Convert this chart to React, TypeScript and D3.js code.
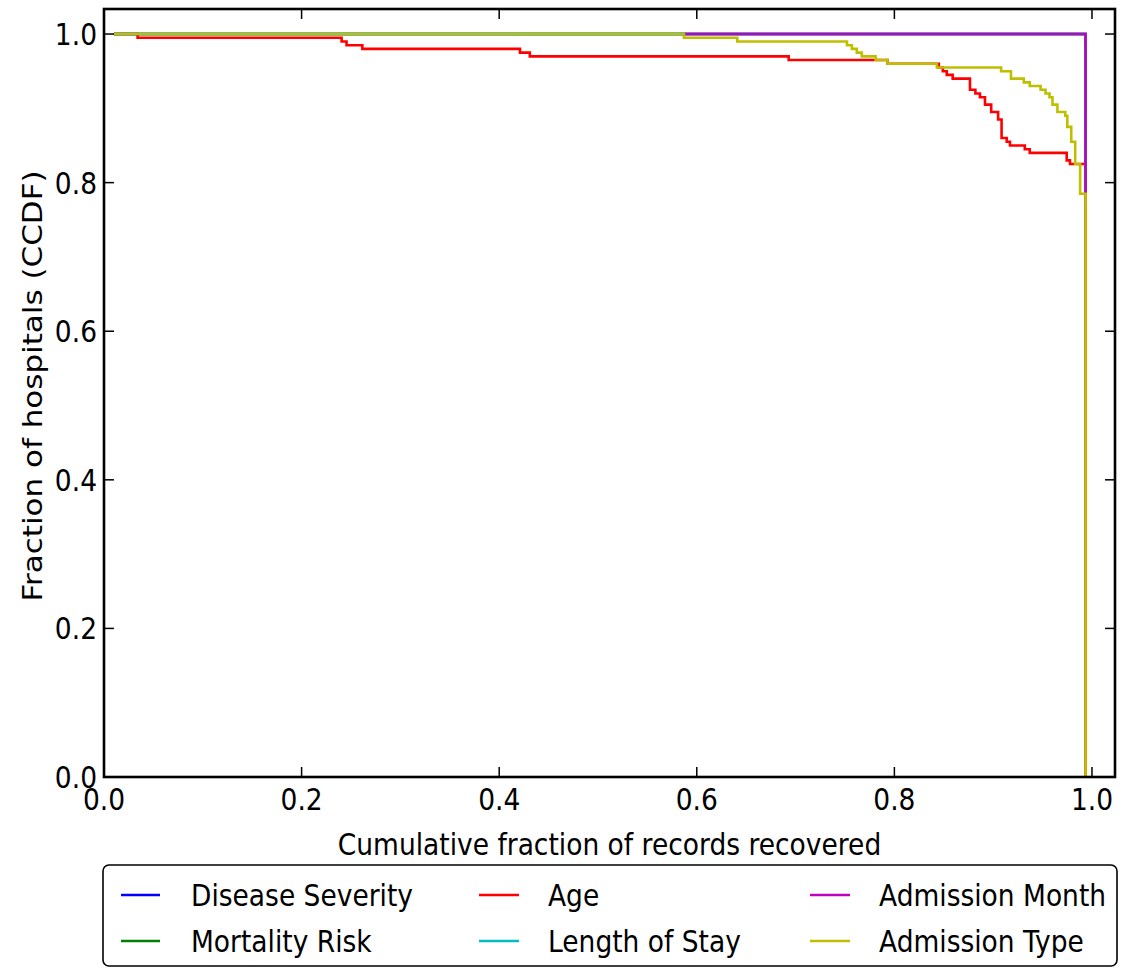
import React from "react";
import * as d3 from "d3";

// ---- Data ----
const xTicks = [0.0, 0.2, 0.4, 0.6, 0.8, 1.0];
const yTicks = [0.0, 0.2, 0.4, 0.6, 0.8, 1.0];

const diseaseSeverityX = [0.01, 0.9935];
const diseaseSeverityY = [1.0, 0.786];
const mortalityRiskX = [0.01, 0.9935];
const mortalityRiskY = [1.0, 0.786];
const lengthOfStayX = [0.01, 0.9935];
const lengthOfStayY = [1.0, 0.786];

const ageX = [0.01, 0.034, 0.2405, 0.2455, 0.2615, 0.421, 0.431, 0.693, 0.793, 0.845, 0.849, 0.853, 0.859, 0.8765, 0.882, 0.8866, 0.8917, 0.898, 0.905, 0.9085, 0.9137, 0.917, 0.932, 0.937, 0.9744, 0.9777, 0.9935];
const ageY = [1.0, 0.995, 0.99, 0.985, 0.98, 0.975, 0.97, 0.965, 0.96, 0.955, 0.95, 0.945, 0.94, 0.925, 0.92, 0.915, 0.905, 0.895, 0.885, 0.86, 0.855, 0.85, 0.845, 0.84, 0.83, 0.825, 0.0];

const admissionMonthX = [0.587, 0.9935];
const admissionMonthY = [1.0, 0.786];

const admissionTypeX = [0.01, 0.587, 0.641, 0.752, 0.757, 0.762, 0.767, 0.781, 0.793, 0.843, 0.908, 0.918, 0.931, 0.937, 0.948, 0.953, 0.957, 0.96, 0.965, 0.973, 0.975, 0.979, 0.983, 0.988, 0.9935];
const admissionTypeY = [1.0, 0.995, 0.99, 0.985, 0.98, 0.975, 0.97, 0.965, 0.96, 0.955, 0.95, 0.94, 0.935, 0.93, 0.925, 0.92, 0.915, 0.905, 0.895, 0.89, 0.875, 0.855, 0.825, 0.785, 0.0];

const seriesNames = ["Disease Severity", "Mortality Risk", "Age", "Length of Stay", "Admission Month", "Admission Type"];
const seriesColors = ["#0000ff", "#008000", "#ff0000", "#00bfbf", "#bf00bf", "#bfbf00"];
const seriesXs = [diseaseSeverityX, mortalityRiskX, ageX, lengthOfStayX, admissionMonthX, admissionTypeX];
const seriesYs = [diseaseSeverityY, mortalityRiskY, ageY, lengthOfStayY, admissionMonthY, admissionTypeY];

const W = 1127;
const H = 968;
const FONT = "DejaVu Sans, sans-serif";
const FS = 31;
const SX = 0.855;

export default function App() {
  const left = 104, right = 1115, top = 9, bottom = 777;
  const x = d3.scaleLinear().domain([0, 1.0233]).range([left, right]);
  const y = d3.scaleLinear().domain([0, 1.0337]).range([bottom, top]);
  const line = d3
    .line<[number, number]>()
    .x((d) => x(d[0]))
    .y((d) => y(d[1]))
    .curve(d3.curveStepAfter);

  const tickLen = 10;
  const fmt = d3.format(".1f");

  const legendCols = [
    { lx1: 121, lx2: 160, tx: 191 },
    { lx1: 479, lx2: 519, tx: 548 },
    { lx1: 810, lx2: 850, tx: 879 },
  ];
  const legendRows = [895, 941];

  const txt = (
    key: string,
    tx: number,
    ty: number,
    s: string,
    anchor: "start" | "middle" | "end"
  ) => (
    <text
      key={key}
      transform={`translate(${tx},${ty}) scale(${SX},1)`}
      textAnchor={anchor}
      fontFamily={FONT}
      fontSize={FS}
      fill="#000"
    >
      {s}
    </text>
  );

  return (
    <svg
      width={W}
      height={H}
      style={{ position: "absolute", left: 0, top: 0, background: "#fff" }}
    >
      <rect x={0} y={0} width={W} height={H} fill="#fff" />
      <defs>
        <clipPath id="plotclip">
          <rect x={left} y={top} width={right - left} height={bottom - top} />
        </clipPath>
      </defs>

      <g clipPath="url(#plotclip)">
        {seriesNames.map((name, i) => {
          const pts = seriesXs[i].map((v, j) => [v, seriesYs[i][j]] as [number, number]);
          return (
            <path
              key={name}
              d={line(pts) || ""}
              fill="none"
              stroke={seriesColors[i]}
              strokeWidth={2.6}
              strokeLinejoin="miter"
            />
          );
        })}
      </g>

      {/* ticks */}
      {xTicks.map((t) => (
        <g key={"xt" + t}>
          <line x1={x(t)} x2={x(t)} y1={bottom} y2={bottom - tickLen} stroke="#000" strokeWidth={1.5} />
          <line x1={x(t)} x2={x(t)} y1={top} y2={top + tickLen} stroke="#000" strokeWidth={1.5} />
          {txt("xl" + t, x(t), 810, fmt(t), "middle")}
        </g>
      ))}
      {yTicks.map((t) => (
        <g key={"yt" + t}>
          <line x1={left} x2={left + tickLen} y1={y(t)} y2={y(t)} stroke="#000" strokeWidth={1.5} />
          <line x1={right} x2={right - tickLen} y1={y(t)} y2={y(t)} stroke="#000" strokeWidth={1.5} />
          {txt("yl" + t, 97, y(t) + 11, fmt(t), "end")}
        </g>
      ))}

      {/* frame */}
      <rect
        x={left}
        y={top}
        width={right - left}
        height={bottom - top}
        fill="none"
        stroke="#000"
        strokeWidth={2.6}
      />

      {/* axis labels */}
      {txt("xlabel", (left + right) / 2, 855, "Cumulative fraction of records recovered", "middle")}
      <text
        transform={`translate(42,386) scale(${SX},1) rotate(-90)`}
        textAnchor="middle"
        fontFamily={FONT}
        fontSize={FS}
        fill="#000"
      >
        Fraction of hospitals (CCDF)
      </text>

      {/* legend */}
      <rect
        x={103}
        y={865}
        width={1014}
        height={101}
        rx={6}
        ry={6}
        fill="#fff"
        stroke="#000"
        strokeWidth={1.6}
      />
      {seriesNames.map((name, i) => {
        const col = legendCols[Math.floor(i / 2)];
        const ry = legendRows[i % 2];
        return (
          <g key={"lg" + name}>
            <line x1={col.lx1} x2={col.lx2} y1={ry} y2={ry} stroke={seriesColors[i]} strokeWidth={2.6} />
            {txt("lt" + name, col.tx, ry + 11, name, "start")}
          </g>
        );
      })}
    </svg>
  );
}
